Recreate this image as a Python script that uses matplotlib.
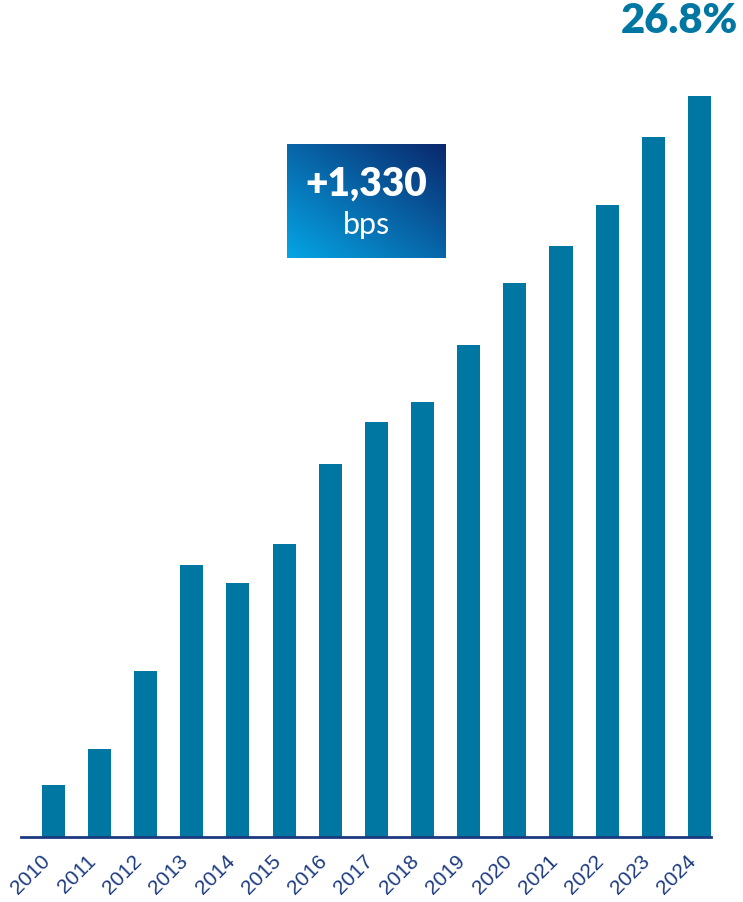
import matplotlib
matplotlib.use("Agg")
import matplotlib.pyplot as plt
import matplotlib.transforms as mtransforms
import numpy as np

years = ["2010", "2011", "2012", "2013", "2014", "2015", "2016", "2017",
         "2018", "2019", "2020", "2021", "2022", "2023", "2024"]
values = [13.5, 14.2, 15.7, 17.75, 17.4, 18.15, 19.7, 20.5, 20.9, 22.0,
          23.2, 23.9, 24.7, 26.0, 26.8]
last_label = "26.8%"
box_main = "+1,330"
box_sub = "bps"

W, H = 743, 903
fig = plt.figure(figsize=(W / 100, H / 100), dpi=100)
left, right, bottom, top = 21, 711, 838, 97
ax = fig.add_axes([left / W, 1 - bottom / H, (right - left) / W, (bottom - top) / H])

bar_color = "#0077A3"
navy = "#1B3A80"
x = np.arange(len(years))
base = 12.5
ax.bar(x, np.array(values) - base, bottom=base, width=0.5, color=bar_color, zorder=2)
ax.set_xlim(-0.7, 14.25)
ax.set_ylim(base, values[-1])
for s in ["top", "right", "left"]:
    ax.spines[s].set_visible(False)
ax.spines["bottom"].set_color(navy)
ax.spines["bottom"].set_linewidth(2)
ax.set_yticks([])
ax.set_xticks(x)
ax.set_xticklabels(years, rotation=45, ha="right", rotation_mode="anchor",
                   fontsize=15, color=navy, family=["Liberation Sans", "DejaVu Sans"])
ax.tick_params(axis="x", length=0, pad=10)
offset = mtransforms.ScaledTranslation(-0.13, 0, fig.dpi_scale_trans)
for lab in ax.get_xticklabels():
    lab.set_transform(lab.get_transform() + offset)

# Top label
fig.text(738 / W, 1 - 21 / H, last_label, ha="right", va="center",
         fontsize=30, fontweight="heavy", color=bar_color, family=["Lato", "DejaVu Sans"])

# Gradient box
bx0, by0, bx1, by1 = 287, 145, 446, 259
bax = fig.add_axes([bx0 / W, 1 - by1 / H, (bx1 - bx0) / W, (by1 - by0) / H])
nx, ny = 200, 150
gx, gy = np.meshgrid(np.linspace(0, 1, nx), np.linspace(0, 1, ny))
t = np.clip((gx + gy) / 2, 0, 1)
c0 = np.array([0x05, 0xA5, 0xE5]) / 255
c1 = np.array([0x0A, 0x28, 0x6C]) / 255
img = c0[None, None, :] * (1 - t[..., None]) + c1[None, None, :] * t[..., None]
bax.imshow(img, origin="lower", extent=[0, 1, 0, 1], aspect="auto")
bax.set_xlim(0, 1)
bax.set_ylim(0, 1)
bax.axis("off")
bax.text(0.5, 0.66, box_main, ha="center", va="center", color="white",
         fontsize=28, fontweight="heavy", family=["Lato", "DejaVu Sans"])
bax.text(0.5, 0.3, box_sub, ha="center", va="center", color="white",
         fontsize=22, family=["Lato", "DejaVu Sans"])

fig.savefig("out.png", dpi=100)
